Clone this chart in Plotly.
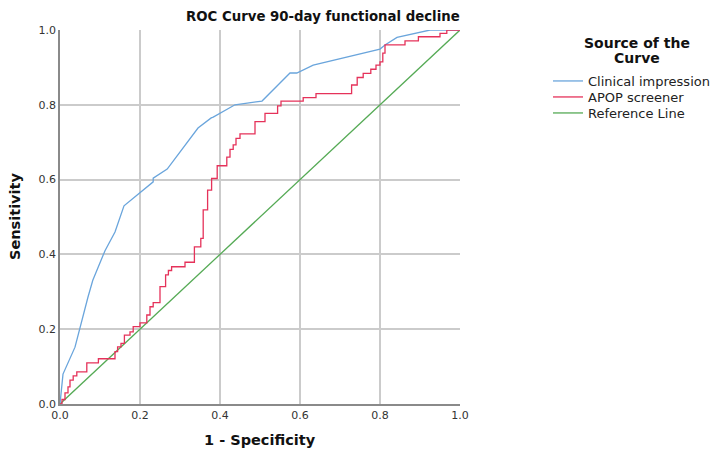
import plotly.graph_objects as go

# Clinical impression ROC (1 - specificity, sensitivity)
clin_fpr = [0, 0.0075, 0.0375, 0.05, 0.07, 0.082, 0.092, 0.1125, 0.1375, 0.16, 0.233, 0.233, 0.268,
            0.305, 0.345, 0.378, 0.383, 0.4375, 0.505, 0.575, 0.592, 0.633, 0.80, 0.8125, 0.8425, 0.925, 1.0]
clin_tpr = [0, 0.08, 0.152, 0.206, 0.286, 0.331, 0.358, 0.41, 0.46, 0.53, 0.594, 0.604, 0.628,
            0.68, 0.738, 0.765, 0.767, 0.80, 0.81, 0.885, 0.885, 0.906, 0.949, 0.96, 0.98, 1.0, 1.0]

# APOP screener ROC (step curve)
apop_fpr = [0, 0.005, 0.0125, 0.02, 0.025, 0.033, 0.042, 0.067, 0.096, 0.1375, 0.144, 0.1525, 0.161,
            0.175, 0.183, 0.20, 0.217, 0.225, 0.233, 0.25, 0.264, 0.271, 0.279, 0.3125, 0.336, 0.352,
            0.358, 0.369, 0.379, 0.393, 0.417, 0.425, 0.433, 0.44, 0.45, 0.4875, 0.5125, 0.544, 0.5525,
            0.608, 0.64, 0.729, 0.743, 0.758, 0.777, 0.79, 0.80, 0.807, 0.8125, 0.8625, 0.896, 0.95,
            0.967, 1.0]
apop_tpr = [0, 0.012, 0.03, 0.046, 0.064, 0.075, 0.086, 0.11, 0.121, 0.14, 0.153, 0.162, 0.184,
            0.193, 0.207, 0.217, 0.238, 0.26, 0.271, 0.314, 0.345, 0.357, 0.367, 0.379, 0.42, 0.443,
            0.519, 0.572, 0.603, 0.637, 0.66, 0.681, 0.693, 0.71, 0.722, 0.755, 0.777, 0.797, 0.81,
            0.819, 0.83, 0.853, 0.873, 0.884, 0.895, 0.906, 0.915, 0.938, 0.96, 0.971, 0.982, 0.991,
            1.0, 1.0]

ref_x = [0, 1]
ref_y = [0, 1]

tick_vals = [0, 0.2, 0.4, 0.6, 0.8, 1.0]
tick_text = ["0.0", "0.2", "0.4", "0.6", "0.8", "1.0"]

BLUE = "#6aa5dc"
RED = "#e5325a"
GREEN = "#55aa55"
FONT = "DejaVu Sans"

fig = go.Figure()
fig.add_trace(go.Scatter(x=ref_x, y=ref_y, mode="lines", name="Reference Line",
                         line=dict(color=GREEN, width=1.3), legend="legend3"))
fig.add_trace(go.Scatter(x=clin_fpr, y=clin_tpr, mode="lines", name="Clinical impression",
                         line=dict(color=BLUE, width=1.3), legend="legend"))
fig.add_trace(go.Scatter(x=apop_fpr, y=apop_tpr, mode="lines", name="APOP screener",
                         line=dict(color=RED, width=1.3, shape="hv"), legend="legend2"))

axis_common = dict(range=[0, 1], tickvals=tick_vals, ticktext=tick_text, showgrid=True,
                   gridcolor="#cbcbcb", gridwidth=1.5, zeroline=False, showline=True,
                   linecolor="#8a8a8a", linewidth=1.5, ticks="",
                   tickfont=dict(family=FONT, size=11, color="#333333"), fixedrange=True)


def leg(ypx):
    return dict(xref="container", yref="container", x=548 / 715, y=1 - ypx / 449,
                xanchor="left", yanchor="middle",
                font=dict(family=FONT, size=13, color="#222222"),
                bgcolor="rgba(0,0,0,0)", borderwidth=0)


fig.update_layout(
    width=715, height=449,
    margin=dict(l=60, r=255, t=30, b=45),
    paper_bgcolor="white", plot_bgcolor="white",
    font=dict(family=FONT, color="#111111"),
    xaxis=dict(**axis_common),
    yaxis=dict(**axis_common),
    showlegend=True,
    legend=leg(81),
    legend2=leg(97),
    legend3=leg(113),
    annotations=[
        dict(text="<b>ROC Curve 90-day functional decline</b>", xref="paper", yref="paper",
             x=0.6575, y=1.035, xanchor="center", yanchor="middle", showarrow=False,
             font=dict(family=FONT, size=13.3, color="#111111")),
        dict(text="<b>1 - Specificity</b>", xref="paper", yref="paper",
             x=0.5, y=-0.096, xanchor="center", yanchor="middle", showarrow=False,
             font=dict(family=FONT, size=14.5, color="#111111")),
        dict(text="<b>Sensitivity</b>", xref="paper", yref="paper",
             x=-0.1125, y=0.5, xanchor="center", yanchor="middle", showarrow=False,
             textangle=-90, font=dict(family=FONT, size=14.5, color="#111111")),
        dict(text="<b>Source of the</b>", xref="paper", yref="paper",
             x=1.4425, y=0.965, xanchor="center", yanchor="middle", showarrow=False,
             font=dict(family=FONT, size=14, color="#111111")),
        dict(text="<b>Curve</b>", xref="paper", yref="paper",
             x=1.4425, y=0.925, xanchor="center", yanchor="middle", showarrow=False,
             font=dict(family=FONT, size=14, color="#111111")),
    ],
)

fig.write_html("out.html")
